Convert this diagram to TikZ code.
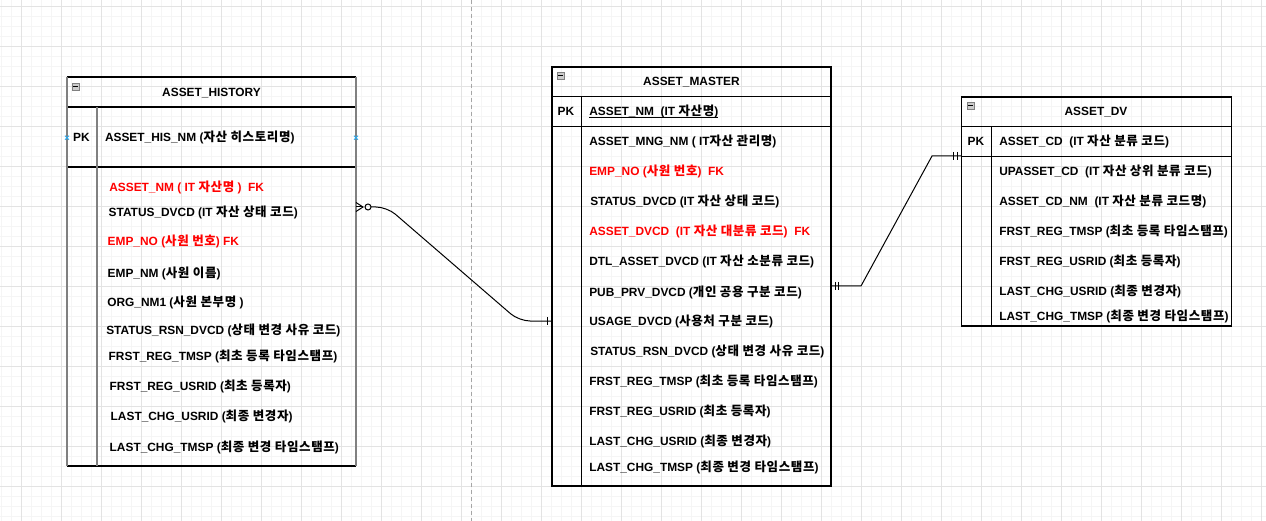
\documentclass[tikz,border=0pt]{standalone}
\usepackage{fontspec}
\setmainfont{Liberation Sans}
\newfontfamily\krf{Noto Sans CJK KR}[Scale=1.05,LetterSpace=5]
\newcommand\K[1]{{\krf #1}}
\begin{document}
\begin{tikzpicture}[x=1pt,y=-1pt,
  txt/.style={anchor=west,inner sep=0pt,outer sep=0pt,text height=8.5pt,text depth=0pt,font=\fontsize{11.9}{14}\selectfont\bfseries},
  ttl/.style={txt,anchor=center},
  fk/.style={txt,text=red},
  box/.style={inner sep=0pt,outer sep=0pt,anchor=north west},
  bl/.style={draw=black,line width=1.2pt},
  gl/.style={draw=black!50,line width=2pt},
  conn/.style={draw=black,line width=1pt},
  icon/.style={draw=black!50,fill=black!20,line width=0.8pt,minimum size=7pt,inner sep=0pt},
  minor/.style={draw=black!4,line width=0.8pt},
  major/.style={draw=black!11,line width=0.8pt},
  xmarker/.style={draw={rgb,255:red,41;green,170;blue,240},line width=0.9pt}]
\useasboundingbox (0,0) rectangle (1266,521);
% grid
\foreach \x in {1,11,...,1261} \draw[minor] (\x,0) -- (\x,521);
\foreach \y in {6,16,...,516} \draw[minor] (0,\y) -- (1266,\y);
\foreach \x in {21,61,...,1261} \draw[major] (\x,0) -- (\x,521);
\foreach \y in {6,46,...,486} \draw[major] (0,\y) -- (1266,\y);
\draw[black!35,line width=1pt,dash pattern=on 4pt off 3pt] (471,0) -- (471,521);

% ---------- ASSET_HISTORY ----------
\node[box,minimum width=289pt,minimum height=389pt] (hist) at (67,77) {};
\draw[bl] (hist.north west) -- (hist.north east);
\draw[bl] (hist.south west) -- (hist.south east);
\draw[bl] (hist.west |- 0,107) -- (hist.east |- 0,107);
\draw[bl] (hist.west |- 0,167) -- (hist.east |- 0,167);
\draw[gl] (hist.north west) -- (hist.south west);
\draw[gl] (hist.north east) -- (hist.south east);
\draw[gl] (97,107) -- (hist.south west -| 97,0);
\node[icon] (hicon) at (75.5,86.5) {};
\draw[line width=1pt] ([xshift=1.5pt]hicon.west) -- ([xshift=-1.5pt]hicon.east);
\node[ttl] (htitle) at (211.5,92.3) {ASSET\_HISTORY};
\node[ttl] (hpk) at (81.5,137.7) {PK};
\node[txt] (h0) at (105,137.7) {ASSET\_HIS\_NM (\K{자산 히스토리명})};
\node[fk] (h1) at (109.3,187.3) {ASSET\_NM ( IT \K{자산명} )\ \ FK};
\node[txt] (h2) at (108.7,212.7) {STATUS\_DVCD (IT \K{자산 상태 코드})};
\node[fk] (h3) at (107.7,241.7) {EMP\_NO (\K{사원 번호}) FK};
\node[txt] (h4) at (107.7,273.3) {EMP\_NM (\K{사원 이름})};
\node[txt] (h5) at (107.3,302.7) {ORG\_NM1 (\K{사원 본부명} )};
\node[txt] (h6) at (106.3,330) {STATUS\_RSN\_DVCD (\K{상태 변경 사유 코드})};
\node[txt] (h7) at (108.7,356.7) {FRST\_REG\_TMSP (\K{최초 등록 타임스탬프})};
\node[txt] (h8) at (109.7,386.7) {FRST\_REG\_USRID (\K{최초 등록자})};
\node[txt] (h9) at (110.7,416.7) {LAST\_CHG\_USRID (\K{최종 변경자})};
\node[txt] (h10) at (109.7,447.3) {LAST\_CHG\_TMSP (\K{최종 변경 타임스탬프})};
\foreach \p in {(67,137.7),(356,137.7)} {
  \draw[xmarker] \p ++(-2,-2) -- ++(4,4);
  \draw[xmarker] \p ++(-2,2) -- ++(4,-4);
}

% ---------- ASSET_MASTER ----------
\node[box,minimum width=279pt,minimum height=419pt,draw=black,line width=1.2pt] (master) at (552,67) {};
\draw[bl] (master.west |- 0,96.5) -- (master.east |- 0,96.5);
\draw[bl] (master.west |- 0,126.5) -- (master.east |- 0,126.5);
\draw[bl] (581.5,96.5) -- (master.south west -| 581.5,0);
\node[icon] (micon) at (560.5,75.5) {};
\draw[line width=1pt] ([xshift=1.5pt]micon.west) -- ([xshift=-1.5pt]micon.east);
\node[ttl] (mtitle) at (691.5,81.7) {ASSET\_MASTER};
\node[ttl] (mpk) at (566,111.7) {PK};
\node[txt] (m0) at (589.3,111.7) {ASSET\_NM\ \ (IT \K{자산명})};
\draw[line width=0.9pt] ([yshift=-2pt]m0.base west) -- ([yshift=-2pt]m0.base east);
\node[txt] (m1) at (589.3,141.7) {ASSET\_MNG\_NM ( IT\K{자산 관리명})};
\node[fk] (m2) at (589.3,171) {EMP\_NO (\K{사원 번호})\ \ FK};
\node[txt] (m3) at (590.3,201.7) {STATUS\_DVCD (IT \K{자산 상태 코드})};
\node[fk] (m4) at (589.3,231.7) {ASSET\_DVCD\ \ (IT \K{자산 대분류 코드})\ \ FK};
\node[txt] (m5) at (589.3,261) {DTL\_ASSET\_DVCD (IT \K{자산 소분류 코드})};
\node[txt] (m6) at (589.3,292.3) {PUB\_PRV\_DVCD (\K{개인 공용 구분 코드})};
\node[txt] (m7) at (589.3,321.7) {USAGE\_DVCD (\K{사용처 구분 코드})};
\node[txt] (m8) at (590.3,351.3) {STATUS\_RSN\_DVCD (\K{상태 변경 사유 코드})};
\node[txt] (m9) at (589.3,381) {FRST\_REG\_TMSP (\K{최초 등록 타임스탬프})};
\node[txt] (m10) at (589.3,411.7) {FRST\_REG\_USRID (\K{최초 등록자})};
\node[txt] (m11) at (589.3,441.7) {LAST\_CHG\_USRID (\K{최종 변경자})};
\node[txt] (m12) at (589.3,467.3) {LAST\_CHG\_TMSP (\K{최종 변경 타임스탬프})};

% ---------- ASSET_DV ----------
\node[box,minimum width=270pt,minimum height=229pt,draw=black,line width=1.2pt] (dv) at (961.5,97) {};
\draw[bl] (dv.west |- 0,126.5) -- (dv.east |- 0,126.5);
\draw[bl] (dv.west |- 0,156.5) -- (dv.east |- 0,156.5);
\draw[bl] (991.5,126.5) -- (dv.south west -| 991.5,0);
\node[icon] (dicon) at (970.5,105.5) {};
\draw[line width=1pt] ([xshift=1.5pt]dicon.west) -- ([xshift=-1.5pt]dicon.east);
\node[ttl] (dtitle) at (1096,111.7) {ASSET\_DV};
\node[ttl] (dpk) at (976,141.7) {PK};
\node[txt] (d0) at (999.3,141.7) {ASSET\_CD\ \ (IT \K{자산 분류 코드})};
\node[txt] (d1) at (999.3,171.7) {UPASSET\_CD\ \ (IT \K{자산 상위 분류 코드})};
\node[txt] (d2) at (999.3,201) {ASSET\_CD\_NM\ \ (IT \K{자산 분류 코드명})};
\node[txt] (d3) at (999.3,231.7) {FRST\_REG\_TMSP (\K{최초 등록 타임스탬프})};
\node[txt] (d4) at (999.3,261.7) {FRST\_REG\_USRID (\K{최초 등록자})};
\node[txt] (d5) at (999.3,291.7) {LAST\_CHG\_USRID (\K{최종 변경자})};
\node[txt] (d6) at (999.3,316.7) {LAST\_CHG\_TMSP (\K{최종 변경 타임스탬프})};

% ---------- connectors ----------
% ASSET_HISTORY (zero-to-many) -> ASSET_MASTER (one)
\coordinate (c1s) at (hist.east |- 0,207);
\coordinate (c1e) at (master.west |- 0,321);
\draw[conn] (hist.east |- 0,202.5) -- (363,207) -- (hist.east |- 0,211.5);
\draw[conn] (c1s) -- (363,207);
\draw[conn] (368,207) circle (3pt);
\draw[conn,rounded corners=11pt] (371,207) -- (387,207) -- (519,321) -- (c1e);
\draw[conn] (547.7,317) -- (547.7,325);
% ASSET_MASTER (one) -> ASSET_DV (one)
\coordinate (c2s) at (master.east |- 0,286);
\coordinate (c2e) at (dv.west |- 0,156);
\draw[conn] (c2s) -- (861,286) -- (932,156) -- (c2e);
\draw[conn] (835,282) -- (835,290);
\draw[conn] (838.5,282) -- (838.5,290);
\draw[conn] (953.5,152) -- (953.5,160);
\draw[conn] (957,152) -- (957,160);
\end{tikzpicture}
\end{document}
